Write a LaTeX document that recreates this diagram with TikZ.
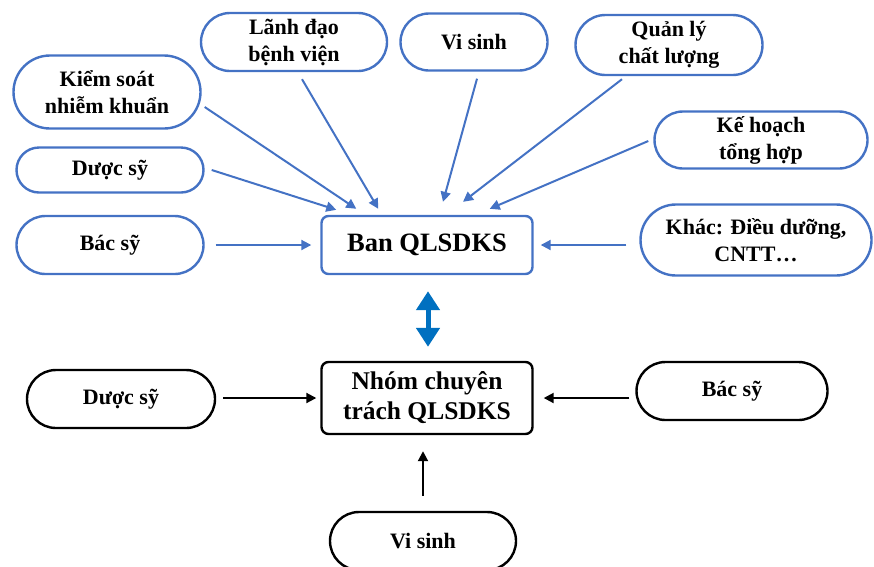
\documentclass[tikz,border=0pt]{standalone}
\usepackage{fontspec}
\setmainfont{Liberation Serif}
\usetikzlibrary{shapes.misc,arrows.meta,calc}
\definecolor{blueC}{HTML}{4472C4}
\definecolor{blueD}{HTML}{0070C0}
\tikzset{
  pill/.style={rounded rectangle, draw=blueC, line width=2.4pt, align=center, inner sep=0pt,
    font=\fontsize{22}{27}\selectfont\bfseries},
  pillk/.style={pill, draw=black},
  boxb/.style={rectangle, rounded corners=7pt, draw=blueC, line width=2.4pt, align=center, inner sep=0pt},
  boxk/.style={boxb, draw=black},
  arrb/.style={draw=blueC, line width=2pt, -{Triangle[length=10pt,width=10pt]}},
  arrk/.style={draw=black, line width=2pt, -{Triangle[length=10pt,width=10pt]}},
  dbl/.style={draw=blueD, line width=5pt, {Triangle[length=19pt,width=23pt]}-{Triangle[length=19pt,width=23pt]}}
}
\begin{document}
\begin{tikzpicture}[x=1pt,y=-1pt]
\useasboundingbox (0,0) rectangle (874,566);
% top nodes
\node[pill, minimum width=186pt, minimum height=58pt] (ld) at (294,42) {Lãnh đạo\\bệnh viện};
\node[pill, minimum width=147pt, minimum height=57pt] (vs1) at (474,42) {Vi sinh};
\node[pill, minimum width=187pt, minimum height=60pt] (ql) at (669,45) {Quản lý\\chất lượng};
\node[pill, minimum width=187pt, minimum height=73pt] (ks) at (107,92) {Kiểm soát\\nhiễm khuẩn};
\node[pill, minimum width=213pt, minimum height=57pt] (kh) at (761,140) {Kế hoạch\\tổng hợp};
\node[pill, minimum width=187pt, minimum height=45pt] (ds1) at (110,170) {Dược sỹ};
\node[pill, minimum width=187pt, minimum height=58pt] (bs1) at (110,245) {Bác sỹ};
\node[pill, minimum width=231pt, minimum height=71pt] (khac) at (756,240) {Khác: Điều dưỡng,\\CNTT…};
\node[boxb, minimum width=211pt, minimum height=58pt, font=\fontsize{26.5}{31}\selectfont\bfseries] (ban) at (427,245) {Ban QLSDKS};
% bottom nodes
\node[boxk, minimum width=211pt, minimum height=72pt, font=\fontsize{25.5}{30}\selectfont\bfseries] (nhom) at (427,398) {Nhóm chuyên\\trách QLSDKS};
\node[pillk, minimum width=188pt, minimum height=58pt] (ds2) at (121,399) {Dược sỹ};
\node[pillk, minimum width=191pt, minimum height=58pt] (bs2) at (732,391) {Bác sỹ};
\node[pillk, minimum width=186pt, minimum height=58pt] (vs2) at (423,541) {Vi sinh};
% top connectors
\draw[arrb] ($(ks.east)+(3,15)$) -- ($(ban.north west)+(36,-6)$);
\draw[arrb] ($(ld.south)+(8,7)$) -- ($(ban.north west)+(58,-6)$);
\draw[arrb] ($(ds1.east)+(7,0)$) -- ($(ban.north west)+(16,-5)$);
\draw[arrb] ($(vs1.south)+(3,7)$) -- ($(ban.north)+(16,-13)$);
\draw[arrb] ($(ql.south)+(-47,3)$) -- ($(ban.north)+(36,-13)$);
\draw[arrb] ($(kh.west)+(-5,1)$) -- ($(ban.north east)+(-44,-6)$);
\draw[arrb] ($(bs1.east)+(11,0)$) -- ($(ban.west)+(-9,0)$);
\draw[arrb] ($(khac.west)+(-13,5)$) -- ($(ban.east)+(7,0)$);
% double arrow
\draw[dbl] ($(ban.south)+(1,16)$) -- ($(nhom.north)+(1,-14)$);
% bottom connectors
\draw[arrk] ($(ds2.east)+(7,-1)$) -- ($(nhom.west)+(-4,0)$);
\draw[arrk] ($(bs2.west)+(-6,7)$) -- ($(nhom.east)+(10,0)$);
\draw[arrk] ($(vs2.north)+(0,-15)$) -- ($(nhom.south)+(-4,16)$);
\end{tikzpicture}
\end{document}
